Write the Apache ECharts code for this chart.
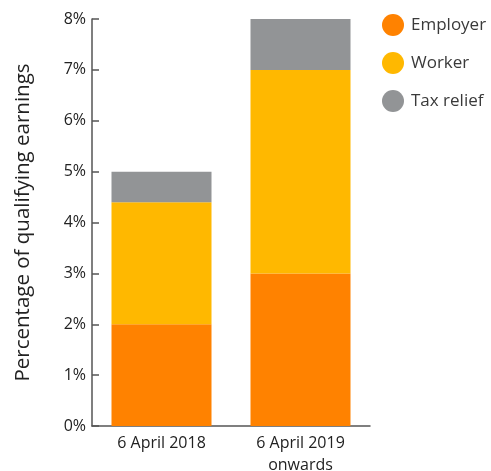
<!DOCTYPE html>
<html><head><meta charset="utf-8">
<script src="https://cdn.jsdelivr.net/npm/echarts@6/dist/echarts.min.js"></script>
<style>html,body{margin:0;padding:0;background:#fff}#c{width:491px;height:471px}</style>
</head><body><div id="c"></div>
<script>
const categories = ['6 April 2018', '6 April 2019\nonwards'];
const employer = [2, 3];
const worker = [2.4, 4];
const taxRelief = [0.6, 1];
const yTicks = [0, 1, 2, 3, 4, 5, 6, 7, 8];

const font = '"Open Sans", "Noto Sans", sans-serif';
const chart = echarts.init(document.getElementById('c'), null, {renderer: 'canvas'});
const mk = (name, data, color) => ({
  name, type: 'bar', stack: 'total', data, barWidth: 100,
  itemStyle: {color}, emphasis: {disabled: true}
});
chart.setOption({
  animation: false,
  textStyle: {fontFamily: font},
  grid: {left: 92, right: 121, top: 19, bottom: 45, containLabel: false, outerBoundsMode: 'none'},
  legend: {
    orient: 'vertical', left: 377, top: 9, icon: 'circle',
    itemWidth: 22, itemHeight: 22, itemGap: 16,
    textStyle: {fontSize: 17, color: '#3a3a3a', fontFamily: font, padding: [0, 0, 0, 2]},
    data: ['Employer', 'Worker', 'Tax relief']
  },
  xAxis: {
    type: 'category', data: categories,
    axisLine: {lineStyle: {color: '#555', width: 1.5}},
    axisTick: {inside: true, length: 8, lineStyle: {color: '#555', width: 1.5}},
    axisLabel: {fontSize: 16, color: '#222', fontFamily: font, margin: 6, lineHeight: 22}
  },
  yAxis: {
    type: 'value', min: yTicks[0], max: yTicks[yTicks.length - 1], interval: 1,
    name: 'Percentage of qualifying earnings', nameLocation: 'middle', nameGap: 58,
    nameTextStyle: {fontSize: 20.5, color: '#222', fontFamily: font},
    axisLine: {show: true, lineStyle: {color: '#555', width: 1.5}},
    axisTick: {show: true, inside: true, length: 7, lineStyle: {color: '#555', width: 1.5}},
    splitLine: {show: false},
    axisLabel: {fontSize: 16, color: '#222', fontFamily: font, margin: 6, formatter: v => v + '%'}
  },
  series: [
    mk('Employer', employer, '#FF8200'),
    mk('Worker', worker, '#FFB800'),
    mk('Tax relief', taxRelief, '#929496')
  ]
});
</script></body></html>
